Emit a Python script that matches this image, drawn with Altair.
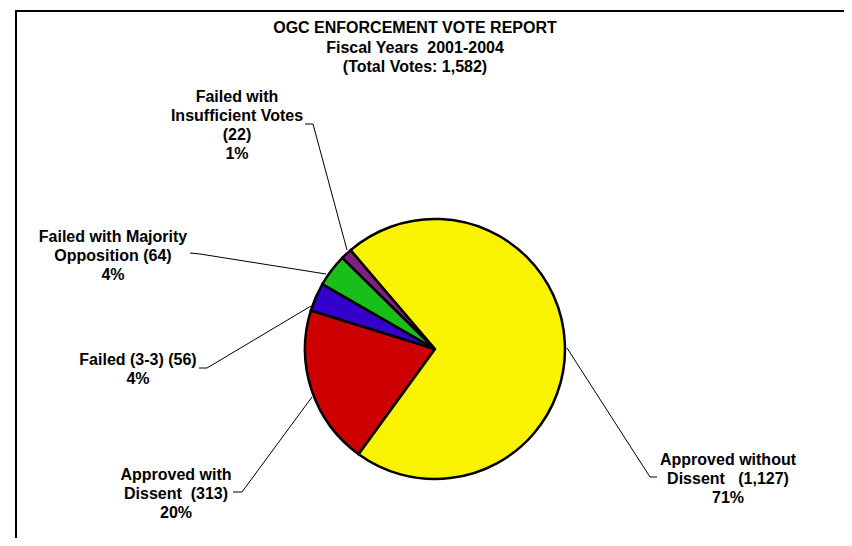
import math
import altair as alt
import pandas as pd

# ---- data ----
categories = [
    "Approved with Dissent",
    "Failed (3-3)",
    "Failed with Majority Opposition",
    "Failed with Insufficient Votes",
    "Approved without Dissent",
]
votes = [313, 56, 64, 22, 1127]
colors = ["#CC0000", "#3300CC", "#1ABE1A", "#7E2080", "#F9F200"]
label_templates = [
    "Approved with\nDissent\u00a0\u00a0({n})\n{p}%",
    "Failed (3-3) ({n})\n{p}%",
    "Failed with Majority\nOpposition ({n})\n{p}%",
    "Failed with\nInsufficient Votes\n({n})\n{p}%",
    "Approved without\nDissent\u00a0\u00a0\u00a0({n})\n{p}%",
]
title_lines = [
    "OGC ENFORCEMENT VOTE REPORT",
    "Fiscal Years\u00a0\u00a02001-2004",
    "(Total Votes: 1,582)",
]

total = sum(votes)
pcts = [round(v / total * 100) for v in votes]

# ---- layout (page pixel coordinates) ----
W, H = 836, 530
X0, Y0 = 8, 8
pie_cx, pie_cy, pie_r = 435, 349, 130
start_deg = 216.0

# first-line centre of each label block
label_pos = [(176, 475), (138, 360), (113, 237), (237, 97), (728, 460)]
leaders = [
    [(233, 492), (242, 492), (312, 397)],
    [(199, 368), (207, 368), (311, 306)],
    [(190, 253), (200, 254), (326, 274)],
    [(305, 124), (313, 124), (347, 250)],
    [(657, 477), (650, 477), (567, 348)],
]

pie_df = pd.DataFrame({
    "category": categories,
    "votes": votes,
    "ord": list(range(len(categories))),
})

lab_rows = []
for i, c in enumerate(categories):
    lab_rows.append({
        "category": c,
        "text": label_templates[i].format(n=f"{votes[i]:,}", p=pcts[i]),
        "px": label_pos[i][0],
        "py": label_pos[i][1],
    })
lab_df = pd.DataFrame(lab_rows)

lead_rows = []
for i, pts in enumerate(leaders):
    for j, (x, y) in enumerate(pts):
        lead_rows.append({"callout": categories[i], "step": j, "px": x, "py": y})
lead_df = pd.DataFrame(lead_rows)

title_df = pd.DataFrame({"text": ["\n".join(title_lines)], "px": [415], "py": [28]})

xs = alt.Scale(domain=[X0, X0 + W], nice=False, zero=False)
ys = alt.Scale(domain=[Y0, Y0 + H], nice=False, zero=False, reverse=True)

FONT = "Liberation Sans"

frame_left = alt.Chart(pd.DataFrame({"a": [0]})).mark_rule(color="black", strokeWidth=2).encode(
    x=alt.value(16 - X0), y=alt.value(11 - Y0), y2=alt.value(H)
)
frame_top = alt.Chart(pd.DataFrame({"a": [0]})).mark_rule(color="black", strokeWidth=2).encode(
    x=alt.value(15 - X0), x2=alt.value(W), y=alt.value(11 - Y0)
)

a0 = math.radians(start_deg)
pie = alt.Chart(pie_df).mark_arc(radius=pie_r, stroke="black", strokeWidth=2.5, strokeJoin="miter").encode(
    theta=alt.Theta("votes:Q", stack=True, scale=alt.Scale(range=[a0, a0 + 2 * math.pi])),
    color=alt.Color("category:N", scale=alt.Scale(domain=categories, range=colors), legend=None),
    order=alt.Order("ord:Q"),
    x=alt.value(pie_cx - X0),
    y=alt.value(pie_cy - Y0),
)

lines = alt.Chart(lead_df).mark_line(color="black", strokeWidth=1).encode(
    x=alt.X("px:Q", scale=xs, axis=None),
    y=alt.Y("py:Q", scale=ys, axis=None),
    detail="callout:N",
    order="step:Q",
)

labels = alt.Chart(lab_df).mark_text(
    font=FONT, fontWeight="bold", fontSize=16, lineHeight=19, lineBreak="\n",
    align="center", baseline="middle", color="black",
).encode(
    x=alt.X("px:Q", scale=xs, axis=None),
    y=alt.Y("py:Q", scale=ys, axis=None),
    text="text:N",
)

title = alt.Chart(title_df).mark_text(
    font=FONT, fontWeight="bold", fontSize=16, lineHeight=19.5, lineBreak="\n",
    align="center", baseline="middle", color="black",
).encode(
    x=alt.X("px:Q", scale=xs, axis=None),
    y=alt.Y("py:Q", scale=ys, axis=None),
    text="text:N",
)

chart = alt.layer(frame_left, frame_top, lines, pie, labels, title).properties(
    width=W, height=H, autosize=alt.AutoSizeParams(type="none"), padding=0,
    background="white",
).configure_view(stroke=None)

chart.save("out.html", embed_options={"renderer": "svg", "actions": False})
